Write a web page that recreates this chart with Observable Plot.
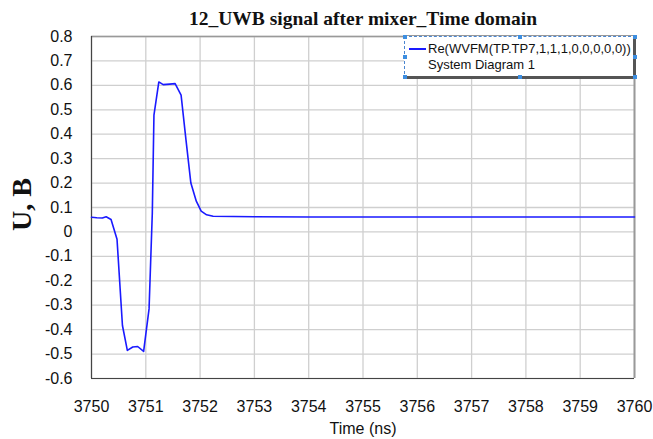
<!DOCTYPE html>
<html>
<head>
<meta charset="utf-8">
<script src="https://cdn.jsdelivr.net/npm/d3@7"></script>
<script src="https://cdn.jsdelivr.net/npm/@observablehq/plot@0.6"></script>
<style>
  html, body { margin: 0; padding: 0; background: #fff; }
  #wrap { position: relative; width: 653px; height: 439px; overflow: hidden; }
  #legend { position: absolute; left: 404px; top: 36px; width: 228px; height: 39px;
    border: 1px dashed #4a86d0; border-right: 3px solid #555; border-bottom: 3px solid #555;
    box-shadow: 0 -1px 0 #999; background: #fff;
    font-family: "Liberation Sans", Arial, sans-serif; font-size: 13px; color: #111; }
  #legend .sw { position: absolute; left: 4px; top: 11px; width: 17px; height: 2px; background: #1a1aff; }
  #legend .t1 { position: absolute; left: 23px; top: 4px; white-space: nowrap; }
  #legend .t2 { position: absolute; left: 23px; top: 20px; white-space: nowrap; }
  .h { position: absolute; width: 4px; height: 4px; background: #3d8ee0; }
</style>
</head>
<body>
<div id="wrap"></div>
<script>
const title = "12_UWB signal after mixer_Time domain";
const xLabel = "Time (ns)";
const yLabel = "U, B";
const seriesName = "Re(WVFM(TP.TP7,1,1,1,0,0,0,0,0))";
const seriesSub = "System Diagram 1";

const times = [3750.0, 3750.1, 3750.2, 3750.27, 3750.36, 3750.47, 3750.57, 3750.66, 3750.76, 3750.85, 3750.96, 3751.06, 3751.12, 3751.15, 3751.24, 3751.32, 3751.44, 3751.54, 3751.65, 3751.74, 3751.83, 3751.93, 3752.02, 3752.12, 3752.24, 3753.0, 3754.0, 3755.0, 3756.0, 3757.0, 3758.0, 3759.0, 3760.0];
const values = [0.060, 0.058, 0.057, 0.062, 0.051, -0.030, -0.383, -0.485, -0.471, -0.469, -0.489, -0.315, 0.078, 0.478, 0.614, 0.603, 0.605, 0.607, 0.560, 0.377, 0.200, 0.126, 0.085, 0.070, 0.064, 0.062, 0.061, 0.061, 0.061, 0.061, 0.061, 0.061, 0.061];

const xTicks = [3750, 3751, 3752, 3753, 3754, 3755, 3756, 3757, 3758, 3759, 3760];
const yTicks = [-0.6, -0.5, -0.4, -0.3, -0.2, -0.1, 0, 0.1, 0.2, 0.3, 0.4, 0.5, 0.6, 0.7, 0.8];

const data = times.map((t, i) => ({t, v: values[i]}));

const chart = Plot.plot({
  width: 653,
  height: 439,
  marginTop: 36,
  marginRight: 19,
  marginBottom: 61,
  marginLeft: 91,
  style: {fontFamily: "'Liberation Sans', Arial, sans-serif", fontSize: "16px", color: "#111", background: "#fff"},
  x: {domain: [3750, 3760]},
  y: {domain: [-0.6, 0.8]},
  marks: [
    Plot.gridX(xTicks, {stroke: "#cfcfcf", strokeOpacity: 1, strokeWidth: 1.3}),
    Plot.gridY(yTicks, {stroke: "#cfcfcf", strokeOpacity: 1, strokeWidth: 1.3}),
    Plot.axisX(xTicks, {tickSize: 0, tickPadding: 22, label: null, fontSize: 16, tickFormat: d => String(d)}),
    Plot.axisY(yTicks, {tickSize: 0, tickPadding: 19, label: null, fontSize: 16, tickFormat: d => d === 0 ? "0" : d.toFixed(1)}),
    Plot.ruleY([0.8], {stroke: "#999", strokeWidth: 1.5}),
    Plot.ruleX([3760], {stroke: "#999", strokeWidth: 2}),
    Plot.ruleX([3750], {stroke: "#444", strokeWidth: 1.2}),
    Plot.ruleY([-0.6], {stroke: "#444", strokeWidth: 1.2}),
    Plot.line(data, {x: "t", y: "v", stroke: "#1a1aff", strokeWidth: 1.6}),
    Plot.text([title], {frameAnchor: "top", lineAnchor: "middle", dy: -18, fontSize: 19.5, fontWeight: "bold", fontFamily: "'Liberation Serif', 'Times New Roman', serif", fill: "#111"}),
    Plot.text([xLabel], {frameAnchor: "bottom", lineAnchor: "middle", dy: 50, fontSize: 16, fill: "#111"}),
    Plot.text([yLabel], {frameAnchor: "left", textAnchor: "middle", lineAnchor: "middle", dx: -69, dy: -3, rotate: -90, fontSize: 28, fontWeight: "bold", fontFamily: "'Liberation Serif', 'Times New Roman', serif", fill: "#111"})
  ]
});

const wrap = document.getElementById("wrap");
wrap.appendChild(chart);

const lg = document.createElement("div");
lg.id = "legend";
lg.innerHTML = `<div class="sw"></div><div class="t1"></div><div class="t2"></div>`;
lg.querySelector(".t1").textContent = seriesName;
lg.querySelector(".t2").textContent = seriesSub;
wrap.appendChild(lg);

// selection handles around the legend box
const hx = [403, 518, 633], hy = [35, 55, 75];
for (const x of hx) for (const y of hy) {
  if (x === 518 && y === 55) continue;
  const h = document.createElement("div");
  h.className = "h";
  h.style.left = x + "px"; h.style.top = y + "px";
  wrap.appendChild(h);
}
</script>
</body>
</html>
